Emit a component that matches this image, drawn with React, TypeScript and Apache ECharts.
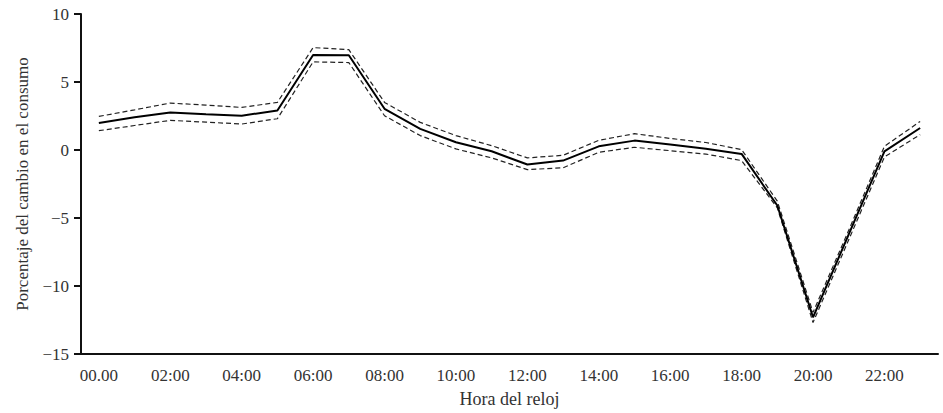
import React, { useEffect, useRef } from "react";
import * as echarts from "echarts";

const hours = [
  "00.00", "01:00", "02:00", "03:00", "04:00", "05:00", "06:00", "07:00",
  "08:00", "09:00", "10:00", "11:00", "12:00", "13:00", "14:00", "15:00",
  "16:00", "17:00", "18:00", "19:00", "20:00", "21:00", "22:00", "23:00",
];
const meanChange = [
  1.99, 2.4, 2.76, 2.62, 2.52, 2.91, 6.99, 6.97, 3.03, 1.55, 0.57, -0.09,
  -1.07, -0.78, 0.27, 0.69, 0.4, 0.1, -0.29, -4.08, -12.3, -6.2, -0.1, 1.62,
];
const upperBound = [
  2.47, 2.95, 3.45, 3.3, 3.13, 3.5, 7.53, 7.38, 3.5, 2.03, 1.06, 0.32,
  -0.58, -0.39, 0.71, 1.2, 0.85, 0.55, 0.03, -3.76, -11.94, -5.9, 0.27, 2.1,
];
const lowerBound = [
  1.42, 1.8, 2.18, 2.05, 1.91, 2.3, 6.48, 6.43, 2.52, 1.06, 0.08, -0.58,
  -1.44, -1.31, -0.17, 0.2, -0.05, -0.3, -0.78, -4.25, -12.68, -6.6, -0.51, 1.13,
];

const FONT = "'Liberation Serif', 'DejaVu Serif', serif";

export default function App() {
  const ref = useRef<HTMLDivElement>(null);
  useEffect(() => {
    if (!ref.current) return;
    const chart = echarts.init(ref.current, undefined, { renderer: "svg" });
    const dashed = {
      type: "line" as const,
      symbol: "none",
      lineStyle: { color: "#222", width: 1.2, type: [5, 3] as any },
      z: 2,
    };
    chart.setOption({
      animation: false,
      backgroundColor: "#fff",
      grid: { left: 81, right: 5, top: 14, bottom: 58, containLabel: false },
      xAxis: {
        type: "category",
        data: hours,
        boundaryGap: true,
        name: "Hora del reloj",
        nameLocation: "middle",
        nameGap: 36,
        nameTextStyle: { fontFamily: FONT, fontSize: 18, color: "#333" },
        axisLine: { onZero: false, lineStyle: { color: "#111", width: 2 } },
        axisTick: { interval: 0, length: 5, lineStyle: { color: "#111", width: 2 } },
        axisLabel: {
          interval: 1,
          margin: 13,
          fontFamily: FONT,
          fontSize: 17,
          color: "#333",
        },
        splitLine: { show: false },
      },
      yAxis: {
        type: "value",
        min: -15,
        max: 10,
        interval: 5,
        name: "Porcentaje del cambio en el consumo",
        nameLocation: "middle",
        nameGap: 50,
        nameTextStyle: { fontFamily: FONT, fontSize: 17, color: "#333" },
        axisLine: { show: true, onZero: false, lineStyle: { color: "#111", width: 2 } },
        axisTick: { show: true, length: 7, lineStyle: { color: "#111", width: 2 } },
        axisLabel: {
          margin: 12,
          fontFamily: FONT,
          fontSize: 17,
          color: "#333",
          formatter: (v: number) => String(v).replace("-", "\u2212"),
        },
        splitLine: { show: false },
      },
      series: [
        { ...dashed, name: "upper", data: upperBound },
        { ...dashed, name: "lower", data: lowerBound },
        {
          type: "line",
          name: "mean",
          symbol: "none",
          data: meanChange,
          lineStyle: { color: "#000", width: 2 },
          z: 3,
        },
      ],
    });
    return () => chart.dispose();
  }, []);
  return (
    <div
      ref={ref}
      style={{ position: "fixed", left: 0, top: 0, width: 943, height: 413, background: "#fff" }}
    />
  );
}
